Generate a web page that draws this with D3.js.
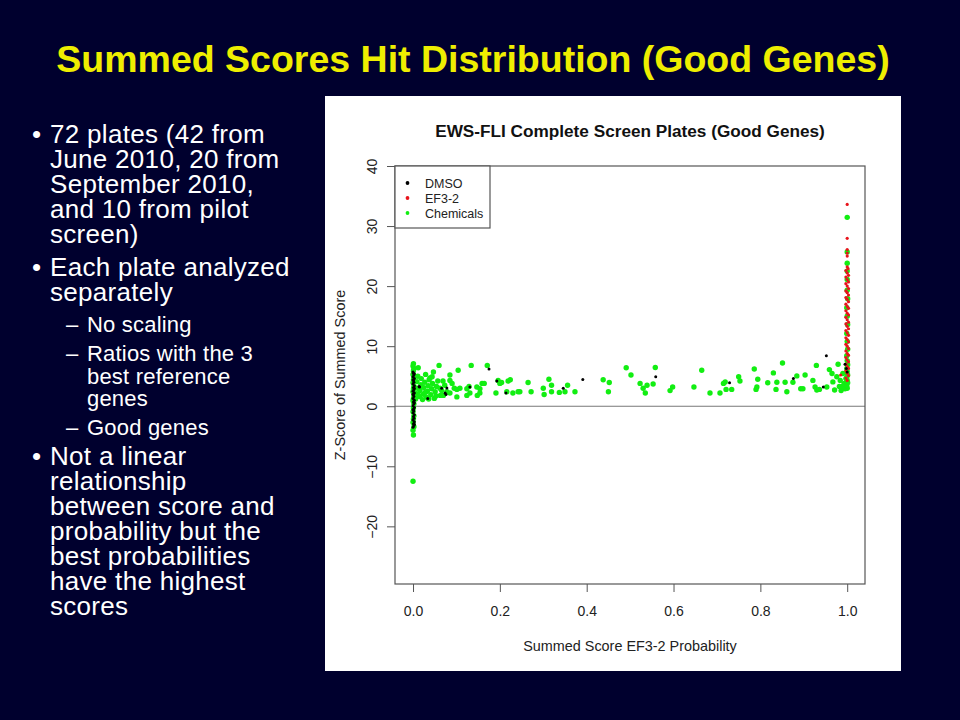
<!DOCTYPE html>
<html>
<head>
<meta charset="utf-8">
<script src="https://cdn.jsdelivr.net/npm/d3@7"></script>
<style>
  body { margin: 0; background: #00002e; }
  svg { display: block; }
</style>
</head>
<body>
<svg></svg>
<script>
// ---- data ----
const seriesNames = ['DMSO', 'EF3-2', 'Chemicals'];
const seriesColors = ['#000000', '#e8141c', '#12ee12'];

const xTicks = [0, 0.2, 0.4, 0.6, 0.8, 1.0];
const yTicks = [-20, -10, 0, 10, 20, 30, 40];

// Chemicals sitting on probability 0
const chemAtZero = [
  [0.000, -12.5], [0.001, -4.8], [0.000, -4.0], [0.002, -3.4], [0.000, -2.7],
  [0.001, -2.1], [0.002, -1.6], [0.000, -0.9], [0.001, -0.3], [0.002, 0.4],
  [0.000, 0.9], [0.001, 1.3], [0.002, 1.8], [0.000, 2.4], [0.001, 2.9],
  [0.002, 3.3], [0.000, 3.9], [0.001, 4.4], [0.002, 4.8], [0.000, 5.3],
  [0.001, 5.9], [0.002, 6.3], [0.000, 6.7], [0.001, 7.1]
];
// Chemicals spread across the probability range
const chemSpread = [
  [0.006, 1.2], [0.008, 2.1], [0.010, 3.0], [0.009, 4.1], [0.011, 5.0], [0.012, 6.4],
  [0.015, 1.6], [0.016, 2.6], [0.018, 3.6], [0.019, 4.6], [0.022, 1.1], [0.024, 2.0],
  [0.025, 3.1], [0.027, 4.0], [0.029, 5.3], [0.031, 1.5], [0.033, 2.5], [0.035, 3.4],
  [0.037, 4.4], [0.039, 4.7], [0.041, 1.9], [0.043, 2.9], [0.045, 3.8], [0.047, 5.7],
  [0.049, 1.3], [0.051, 2.4], [0.054, 3.3], [0.057, 4.2], [0.060, 6.8], [0.062, 3.0],
  [0.063, 1.8], [0.066, 2.6], [0.069, 4.2], [0.070, 1.8], [0.073, 3.5], [0.078, 2.4],
  [0.012, 1.9], [0.020, 3.3], [0.028, 2.3], [0.036, 1.2], [0.044, 4.9], [0.053, 1.7],
  [0.085, 5.2], [0.085, 4.3], [0.085, 2.2], [0.090, 3.8], [0.095, 3.0], [0.101, 2.8],
  [0.101, 1.55], [0.104, 6.0], [0.108, 3.0], [0.124, 2.9], [0.124, 1.8], [0.129, 3.3],
  [0.131, 2.2], [0.134, 6.8], [0.147, 3.2], [0.148, 1.8], [0.154, 2.9], [0.154, 2.2],
  [0.159, 3.8], [0.164, 3.8], [0.171, 6.8], [0.191, 2.2], [0.196, 4.3], [0.200, 3.8],
  [0.204, 3.95], [0.216, 2.4], [0.219, 4.2], [0.224, 4.4], [0.230, 2.2], [0.242, 2.4],
  [0.246, 2.4], [0.265, 3.95], [0.272, 2.4], [0.300, 3.0], [0.302, 1.95], [0.313, 4.5],
  [0.319, 3.5], [0.319, 2.4], [0.337, 2.3], [0.350, 2.4], [0.356, 3.5], [0.373, 2.4],
  [0.438, 4.4], [0.452, 3.95], [0.450, 2.4], [0.491, 6.4], [0.502, 5.2], [0.523, 3.8],
  [0.530, 3.0], [0.535, 2.2], [0.539, 3.5], [0.553, 3.7], [0.558, 6.45], [0.592, 2.6],
  [0.598, 3.2], [0.647, 3.2], [0.665, 6.0], [0.684, 2.2], [0.707, 2.2], [0.715, 3.8],
  [0.719, 4.05], [0.721, 2.8], [0.734, 2.8], [0.750, 4.9], [0.753, 4.2], [0.786, 6.2],
  [0.790, 2.8], [0.792, 3.2], [0.794, 4.5], [0.817, 3.9], [0.830, 5.55], [0.836, 2.8],
  [0.838, 4.0], [0.851, 7.2], [0.857, 4.0], [0.861, 2.4], [0.875, 4.0], [0.884, 5.05],
  [0.893, 2.9], [0.898, 2.9], [0.903, 5.2], [0.921, 4.3], [0.926, 3.2], [0.929, 6.8],
  [0.930, 2.7], [0.936, 2.8], [0.953, 3.2], [0.959, 6.1], [0.965, 5.45], [0.967, 4.05],
  [0.971, 2.7], [0.976, 4.9], [0.979, 7.0], [0.982, 3.3], [0.984, 4.3], [0.988, 3.3],
  [0.990, 5.45], [0.991, 3.2], [0.993, 3.8], [0.995, 2.9], [0.997, 4.6], [0.986, 2.6]
];
// Chemicals sitting on probability 1
const chemAtOne = [
  [1.000, 3.0], [0.999, 3.4], [1.001, 3.9], [1.000, 4.3], [0.999, 4.8], [1.001, 5.2],
  [1.000, 5.8], [0.999, 6.3], [1.001, 6.9], [1.000, 7.6], [0.999, 8.4], [1.001, 9.5],
  [1.000, 10.8], [0.999, 12.1], [1.001, 13.6], [1.000, 15.0], [0.999, 16.4], [1.001, 17.9],
  [1.000, 19.3], [1.000, 21.1], [1.000, 22.5], [1.000, 23.8], [1.000, 25.7], [1.000, 31.45]
];
// EF3-2 positive controls, all on probability 1
const ef32 = [
  [0.985, 5.2], [1.000, 4.3], [0.997, 4.7], [1.003, 5.1], [1.000, 5.5], [0.997, 5.9],
  [1.003, 6.3], [1.000, 6.6], [0.997, 7.0], [1.003, 7.4], [1.000, 7.7], [0.997, 8.1],
  [1.003, 8.5], [1.000, 8.8], [0.997, 9.2], [1.003, 9.6], [1.000, 10.0], [0.997, 10.3],
  [1.003, 10.7], [1.000, 11.1], [0.997, 11.4], [1.003, 11.8], [1.000, 12.2], [0.997, 12.6],
  [1.003, 12.9], [1.000, 13.3], [0.997, 13.7], [1.003, 14.0], [1.000, 14.4], [0.997, 14.8],
  [1.003, 15.2], [1.000, 15.5], [0.997, 15.9], [1.003, 16.3], [1.000, 16.6], [0.997, 17.0],
  [1.003, 17.4], [1.000, 17.8], [0.997, 18.1], [1.003, 18.5], [1.000, 18.9], [0.997, 19.2],
  [1.003, 19.6], [1.000, 20.0], [0.997, 20.4], [1.003, 20.7], [1.000, 21.1], [0.997, 21.5],
  [1.003, 21.8], [1.000, 22.2], [0.997, 22.6], [1.002, 22.9], [1.000, 23.2],
  [1.000, 25.0], [1.000, 25.5], [1.000, 26.1], [1.000, 27.95], [1.000, 33.6]
];
// DMSO negative controls
const dmso = [
  [0.000, -3.5], [0.002, -3.2], [0.001, -2.9], [0.003, -2.6], [0.000, -2.3], [0.002, -2.0],
  [0.001, -1.7], [0.003, -1.4], [0.000, -1.1], [0.002, -0.8], [0.001, -0.5], [0.003, -0.2],
  [0.000, 0.1], [0.002, 0.4], [0.001, 0.7], [0.003, 1.0], [0.000, 1.3], [0.002, 1.6],
  [0.001, 1.9], [0.003, 2.2], [0.000, 2.5], [0.002, 2.8], [0.001, 3.1], [0.003, 3.4],
  [0.000, 3.7], [0.002, 4.0], [0.001, 4.3], [0.003, 4.6], [0.000, 4.9], [0.002, 5.2],
  [0.001, 5.5], [0.000, 5.7], [0.003, -3.0], [0.000, -0.6], [0.003, 0.6], [0.000, 2.0],
  [0.003, 3.0], [0.000, 4.4], [0.003, 5.4],
  [0.014, 3.3], [0.015, 3.2], [0.034, 1.3], [0.066, 3.0], [0.076, 1.95], [0.078, 3.05],
  [0.074, 2.2], [0.131, 3.2], [0.175, 6.2], [0.193, 4.2], [0.214, 2.2], [0.346, 3.0],
  [0.391, 4.45], [0.559, 4.9], [0.729, 3.9], [0.876, 4.6], [0.945, 3.2], [0.952, 8.4],
  [0.995, 7.0], [0.998, 6.3], [1.000, 5.7]
];

const bullets = [
  { level: 1, lines: ['72 plates (42 from', 'June 2010, 20 from', 'September 2010,', 'and 10 from pilot', 'screen)'] },
  { level: 1, lines: ['Each plate analyzed', 'separately'] },
  { level: 2, lines: ['No scaling'] },
  { level: 2, lines: ['Ratios with the 3', 'best reference', 'genes'] },
  { level: 2, lines: ['Good genes'] },
  { level: 1, lines: ['Not a linear', 'relationship', 'between score and', 'probability but the', 'best probabilities', 'have the highest', 'scores'] }
];

// ---- slide ----
const width = 960;
const height = 720;
const svg = d3.select('svg')
    .attr('width', width)
    .attr('height', height);

svg.append('rect')
    .attr('width', width).attr('height', height)
    .attr('fill', '#00002e');

svg.append('text')
    .attr('x', 473).attr('y', 72)
    .attr('text-anchor', 'middle')
    .attr('fill', '#eeee00')
    .style('font-family', 'Liberation Sans, Arial, sans-serif')
    .style('font-weight', 'bold')
    .style('font-size', '37.5px')
    .text('Summed Scores Hit Distribution (Good Genes)');

// bullet list
const textG = svg.append('g')
    .style('font-family', 'Liberation Sans, Arial, sans-serif')
    .attr('fill', '#ffffff');
let baseY = 143;
bullets.forEach((b, i) => {
    const prev = i > 0 ? bullets[i - 1].level : 1;
    if (i > 0) baseY += (b.level === 1 && prev === 1) ? 33 : (b.level === 1 ? 30 : (prev === 1 ? 31 : 29));
    const size = b.level === 1 ? 26 : 22;
    const step = b.level === 1 ? 25 : 22.5;
    const markX = b.level === 1 ? 32 : 66;
    const textX = b.level === 1 ? 50 : 87;
    textG.append('text')
        .attr('x', markX).attr('y', baseY)
        .style('font-size', size + 'px')
        .text(b.level === 1 ? '•' : '–');
    b.lines.forEach((line, j) => {
        textG.append('text')
            .attr('x', textX).attr('y', baseY + j * step)
            .style('font-size', size + 'px')
            .style('letter-spacing', b.level === 1 ? '0.3px' : '0.2px')
            .text(line);
    });
    baseY += (b.lines.length - 1) * step;
});

// ---- chart panel ----
const panel = svg.append('g')
    .style('font-family', 'Liberation Sans, Arial, sans-serif');
panel.append('rect')
    .attr('x', 325).attr('y', 96)
    .attr('width', 576).attr('height', 575)
    .attr('fill', '#ffffff');

const box = { left: 395, right: 865, top: 166, bottom: 584 };

const xScale = d3.scaleLinear()
    .domain([-0.0415, 1.041])
    .range([box.left, box.right]);
const yScale = d3.scaleLinear()
    .domain([-29.6, 40])
    .range([box.bottom, box.top]);

panel.append('text')
    .attr('x', (box.left + box.right) / 2).attr('y', 137)
    .attr('text-anchor', 'middle')
    .attr('fill', '#111')
    .style('font-weight', 'bold')
    .style('font-size', '17.2px')
    .text('EWS-FLI Complete Screen Plates (Good Genes)');

// zero line
panel.append('line')
    .attr('x1', box.left).attr('x2', box.right)
    .attr('y1', yScale(0)).attr('y2', yScale(0))
    .attr('stroke', '#777').attr('stroke-width', 1.2);

const xAxis = d3.axisBottom(xScale)
    .tickValues(xTicks)
    .tickFormat(d3.format('.1f'))
    .tickSize(8)
    .tickPadding(14);
const xAxisG = panel.append('g')
    .attr('transform', `translate(0,${box.bottom})`)
    .call(xAxis);
xAxisG.select('.domain').remove();
xAxisG.selectAll('line').attr('stroke', '#555');
xAxisG.selectAll('text')
    .attr('fill', '#222')
    .style('font-family', 'Liberation Sans, Arial, sans-serif')
    .style('font-size', '14px');

const yAxis = d3.axisLeft(yScale)
    .tickValues(yTicks)
    .tickSize(8);
const yAxisG = panel.append('g')
    .attr('transform', `translate(${box.left},0)`)
    .call(yAxis);
yAxisG.select('.domain').remove();
yAxisG.selectAll('line').attr('stroke', '#555');
yAxisG.selectAll('text')
    .attr('transform', 'rotate(-90)')
    .attr('x', 0).attr('y', -18).attr('dy', 0)
    .attr('text-anchor', 'middle')
    .attr('fill', '#222')
    .style('font-family', 'Liberation Sans, Arial, sans-serif')
    .style('font-size', '14px');

panel.append('text')
    .attr('x', (box.left + box.right) / 2).attr('y', 651)
    .attr('text-anchor', 'middle')
    .attr('fill', '#222')
    .style('font-size', '14.4px')
    .text('Summed Score EF3-2 Probability');

panel.append('text')
    .attr('transform', `translate(345,${(box.top + box.bottom) / 2}) rotate(-90)`)
    .attr('text-anchor', 'middle')
    .attr('fill', '#222')
    .style('font-size', '14.4px')
    .text('Z-Score of Summed Score');

// points: chemicals first, then controls on top
const pointLayers = [
    { data: chemAtZero.concat(chemSpread, chemAtOne), color: seriesColors[2], r: 2.7 },
    { data: ef32, color: seriesColors[1], r: 1.6 },
    { data: dmso, color: seriesColors[0], r: 1.5 }
];
pointLayers.forEach(layer => {
    panel.append('g').selectAll('circle').data(layer.data)
        .enter().append('circle')
        .attr('cx', d => xScale(d[0]))
        .attr('cy', d => yScale(d[1]))
        .attr('r', layer.r)
        .attr('fill', layer.color);
});

// plot box
panel.append('rect')
    .attr('x', box.left).attr('y', box.top)
    .attr('width', box.right - box.left).attr('height', box.bottom - box.top)
    .attr('fill', 'none')
    .attr('stroke', '#555').attr('stroke-width', 1.2);

// legend
const legendG = panel.append('g').attr('transform', `translate(${box.left},${box.top})`);
legendG.append('rect')
    .attr('width', 95).attr('height', 62)
    .attr('fill', '#fff')
    .attr('stroke', '#555').attr('stroke-width', 1.2);
seriesNames.forEach((name, i) => {
    legendG.append('circle')
        .attr('cx', 12.5).attr('cy', 17 + i * 15)
        .attr('r', 1.9)
        .attr('fill', seriesColors[i]);
    legendG.append('text')
        .attr('x', 30).attr('y', 21.5 + i * 15)
        .attr('fill', '#222')
        .style('font-size', '12.5px')
        .text(name);
});
</script>
</body>
</html>
